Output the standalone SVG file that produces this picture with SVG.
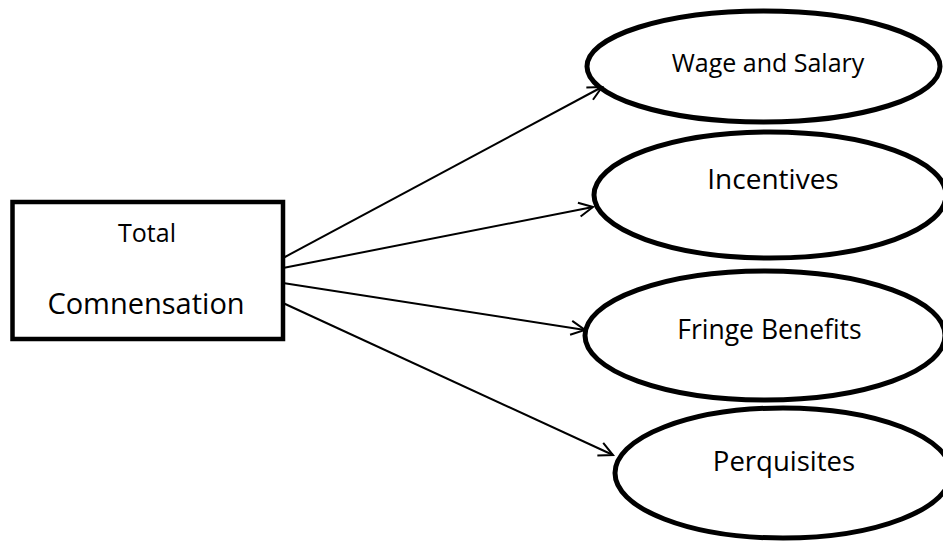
<svg xmlns="http://www.w3.org/2000/svg" width="943" height="541" viewBox="0 0 943 541">
  <style>
    .box { fill: #ffffff; stroke: #000000; stroke-width: 4.5; }
    .oval { fill: #ffffff; stroke: #000000; stroke-width: 5; }
    .lbl { font-family: "Open Sans", "Noto Sans", sans-serif; fill: #000000; text-anchor: middle; }
    .conn { fill: none; stroke: #000000; stroke-width: 2; marker-end: url(#arrow); }
  </style>
  <defs>
    <marker id="arrow" markerUnits="userSpaceOnUse" markerWidth="20" markerHeight="20" refX="0" refY="0" viewBox="-16 -10 20 20" orient="auto">
      <path d="M -14 -7 L 0 0 L -14 7" fill="none" stroke="#000000" stroke-width="2"/>
    </marker>
  </defs>
  <rect width="943" height="541" fill="#ffffff"/>

  <g id="node-total">
    <rect class="box" x="12.5" y="202" width="270.5" height="137"/>
    <text class="lbl" x="147" y="242" font-size="25">Total</text>
    <text class="lbl" x="146" y="314" font-size="29">Comnensation</text>
  </g>

  <g id="node-wage">
    <ellipse class="oval" cx="763.5" cy="66.5" rx="176.5" ry="55.5"/>
    <text class="lbl" x="768" y="72" font-size="25">Wage and Salary</text>
  </g>
  <g id="node-incentives">
    <ellipse class="oval" cx="770" cy="195" rx="176" ry="63"/>
    <text class="lbl" x="773" y="189" font-size="28">Incentives</text>
  </g>
  <g id="node-fringe">
    <ellipse class="oval" cx="765" cy="335.5" rx="180" ry="64.5"/>
    <text class="lbl" x="769.5" y="339" font-size="26.5">Fringe Benefits</text>
  </g>
  <g id="node-perquisites">
    <ellipse class="oval" cx="783" cy="473" rx="168" ry="65"/>
    <text class="lbl" x="784" y="471" font-size="27.5">Perquisites</text>
  </g>

  <g id="connectors">
    <line class="conn" x1="283" y1="258" x2="602" y2="87"/>
    <line class="conn" x1="283" y1="268" x2="593" y2="207"/>
    <line class="conn" x1="283" y1="283" x2="585" y2="330"/>
    <line class="conn" x1="283" y1="303" x2="613" y2="455"/>
  </g>
</svg>
